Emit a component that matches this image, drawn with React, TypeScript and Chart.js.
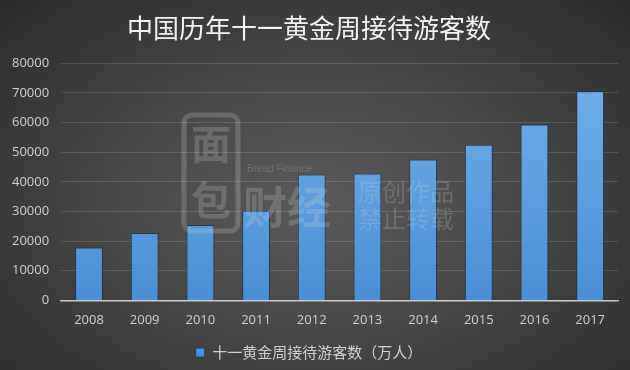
import React, { useEffect, useRef } from "react";
import { Chart, registerables } from "chart.js";

Chart.register(...registerables);

const titleText = "中国历年十一黄金周接待游客数";
const seriesLabel = "十一黄金周接待游客数（万人）";
const years = ["2008", "2009", "2010", "2011", "2012", "2013", "2014", "2015", "2016", "2017"];
const visitors = [17800, 22700, 25400, 30200, 42500, 42800, 47500, 52500, 59300, 70500];
const yMax = 80000;
const yStep = 10000;

const watermark = {
  id: "watermark",
  afterDatasetsDraw(chart: any) {
    const ctx = chart.ctx;
    ctx.save();
    const col = "rgba(215,215,215,0.22)";
    ctx.fillStyle = col;
    ctx.textBaseline = "middle";
    ctx.font = "10px 'Liberation Sans', sans-serif";
    ctx.fillText("Bread Finance", 247, 169);
    ctx.font = "24px 'Noto Sans CJK SC', sans-serif";
    ctx.fillText("原创作品", 358, 192);
    ctx.fillText("禁止转载", 358, 219);
    ctx.font = "bold 44px 'Noto Sans CJK SC', sans-serif";
    ctx.fillText("财经", 243, 207);
    ctx.font = "bold 40px 'Noto Sans CJK SC', sans-serif";
    ctx.textAlign = "center";
    ctx.fillText("面", 211, 144);
    ctx.fillText("包", 211, 200);
    ctx.strokeStyle = col;
    ctx.lineWidth = 5;
    ctx.beginPath();
    ctx.roundRect(184, 115, 54, 116, 8);
    ctx.stroke();
    ctx.restore();
  },
};

export default function App() {
  const ref = useRef<HTMLCanvasElement | null>(null);
  useEffect(() => {
    document.body.style.margin = "0";
    const canvas = ref.current!;
    const chart = new Chart(canvas, {
      type: "bar",
      data: {
        labels: years,
        datasets: [
          {
            label: seriesLabel,
            data: visitors,
            backgroundColor: (c: any) => {
              const area = c.chart.chartArea;
              if (!area) return "#5b9bd5";
              const g = c.chart.ctx.createLinearGradient(0, area.top, 0, area.bottom);
              g.addColorStop(0, "#72b0ea");
              g.addColorStop(1, "#4a8fd6");
              return g;
            },
            borderColor: "rgba(25,45,75,0.7)",
            borderWidth: 1,
            barPercentage: 0.5,
            categoryPercentage: 1,
          },
        ],
      },
      options: {
        animation: false,
        responsive: false,
        maintainAspectRatio: false,
        layout: { padding: { left: 0, right: 12, top: 0, bottom: 0 } },
        plugins: {
          title: {
            display: true,
            text: titleText,
            color: "#f2f2f2",
            font: { family: "'Noto Sans CJK SC', sans-serif", size: 26, weight: "normal" },
            padding: { top: 13, bottom: 19 },
          },
          legend: {
            position: "bottom",
            labels: {
              color: "#d0d0d0",
              font: { family: "'Noto Sans CJK SC', sans-serif", size: 15 },
              boxWidth: 9,
              boxHeight: 9,
              padding: 5,
            },
          },
          tooltip: { enabled: false },
        },
        scales: {
          x: {
            grid: { display: false, drawTicks: false },
            border: { display: true, color: "#c8c8c8", width: 1.5 },
            ticks: { color: "#d0d0d0", font: { family: "'Open Sans', sans-serif", size: 13 }, padding: 12 },
          },
          y: {
            min: 0,
            max: yMax,
            ticks: {
              stepSize: yStep,
              color: "#d0d0d0",
              font: { family: "'Open Sans', sans-serif", size: 13 },
              padding: 12,
              callback: (v: any) => String(v),
            },
            grid: { color: "rgba(255,255,255,0.14)", drawTicks: false },
            border: { display: false },
          },
        },
      },
      plugins: [watermark],
    });
    return () => chart.destroy();
  }, []);
  return (
    <div
      style={{
        width: 630,
        height: 370,
        background: "radial-gradient(ellipse at 50% 55%, #5a5a5a 0%, #484848 45%, #2a2a2a 100%)",
      }}
    >
      <canvas ref={ref} width={630} height={370} />
    </div>
  );
}
